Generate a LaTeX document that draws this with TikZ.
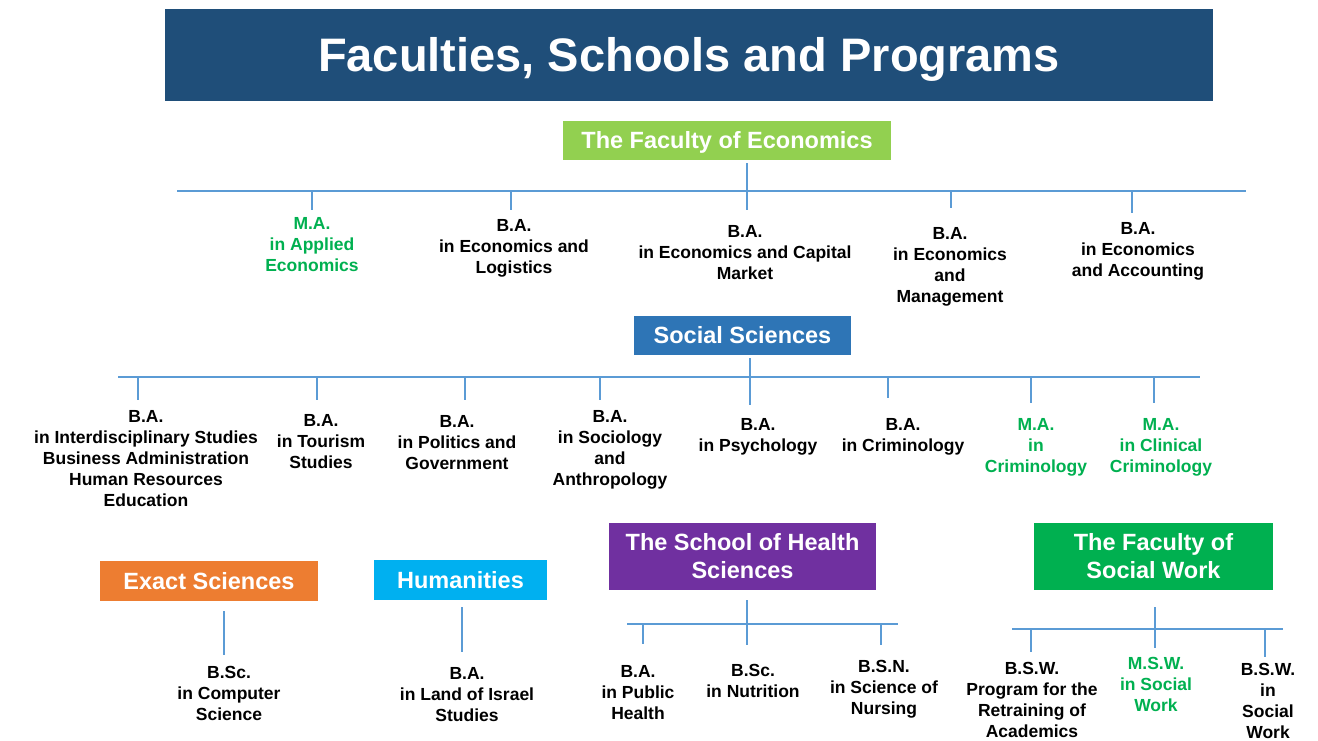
\documentclass[tikz,border=0pt]{standalone}
\usepackage{fontspec}
\setmainfont{Liberation Sans}
\usetikzlibrary{positioning}
\definecolor{titleblue}{HTML}{1F4E79}
\definecolor{ecogreen}{HTML}{92D050}
\definecolor{socblue}{HTML}{2E75B6}
\definecolor{exactorange}{HTML}{ED7D31}
\definecolor{humcyan}{HTML}{00B0F0}
\definecolor{healthpurple}{HTML}{7030A0}
\definecolor{swgreen}{HTML}{00B050}
\definecolor{linkblue}{HTML}{5B9BD5}
\tikzset{
    facbox/.style={
        fill=#1,
        text=white,
        inner sep=0pt,
        align=center,
        font=\bfseries\fontsize{23.5}{28}\selectfont
    },
    oneline/.style={
        text height=#1,
        text depth=0pt
    },
    oneline/.default=16.8pt,
    prog/.style={
        anchor=north,
        inner sep=0pt,
        align=center,
        font=\bfseries\fontsize{17.5}{21}\selectfont
    },
    master/.style={prog, text=swgreen},
    link/.style={draw=linkblue, line width=1.2pt}
}

\begin{document}
\begin{tikzpicture}[x=1pt, y=-1pt]
\useasboundingbox (0,0) rectangle (1318,740);

% title
\node[fill=titleblue, text=white, minimum width=1048pt, minimum height=92pt,
      inner sep=0pt, oneline=33.6pt, font=\bfseries\fontsize{47}{56}\selectfont]
      (title) at (689,55) {Faculties, Schools and Programs};

% faculties
\node[facbox=ecogreen, oneline, minimum width=328pt, minimum height=39pt] (eco) at (727,140.5) {The Faculty of Economics};
\node[facbox=socblue, oneline, minimum width=217pt, minimum height=39pt] (soc) at (742.5,335.5) {Social Sciences};
\node[facbox=exactorange, oneline, minimum width=218pt, minimum height=40pt] (exact) at (209,581) {Exact Sciences};
\node[facbox=humcyan, oneline, minimum width=173pt, minimum height=40pt] (hum) at (460.5,580) {Humanities};
\node[facbox=healthpurple, minimum width=267pt, minimum height=67pt] (health) at (742.5,556.5) {The School of Health\\Sciences};
\node[facbox=swgreen, minimum width=239pt, minimum height=67pt] (sw) at (1153.5,556.5) {The Faculty of\\Social Work};

% programs of economics
\node[master] (p1) at (312,217.7) {M.A.\\in Applied\\Economics};
\node[prog] (p2) at (514,219.7) {B.A.\\in Economics and\\Logistics};
\node[prog] (p3) at (745,225.7) {B.A.\\in Economics and Capital\\Market};
\node[prog] (p4) at (950,227.7) {B.A.\\in Economics\\and\\Management};
\node[prog] (p5) at (1138,222.7) {B.A.\\in Economics\\and Accounting};

% programs of social sciences
\node[prog] (s1) at (146,410.7) {B.A.\\in Interdisciplinary Studies\\Business Administration\\Human Resources\\Education};
\node[prog] (s2) at (321,414.7) {B.A.\\in Tourism\\Studies};
\node[prog] (s3) at (457,415.7) {B.A.\\in Politics and\\Government};
\node[prog] (s4) at (610,410.7) {B.A.\\in Sociology\\and\\Anthropology};
\node[prog] (s5) at (758,418.7) {B.A.\\in Psychology};
\node[prog] (s6) at (903,418.7) {B.A.\\in Criminology};
\node[master] (s7) at (1036,418.7) {M.A.\\in\\Criminology};
\node[master] (s8) at (1161,418.7) {M.A.\\in Clinical\\Criminology};

% programs of the lower faculties
\node[prog] (e1) at (229,665.7) {B.Sc.\\in Computer\\Science};
\node[prog] (hm1) at (467,667.7) {B.A.\\in Land of Israel\\Studies};
\node[prog] (h1) at (638,665.7) {B.A.\\in Public\\Health};
\node[prog] (h2) at (753,663.7) {B.Sc.\\in Nutrition};
\node[prog] (h3) at (884,659.7) {B.S.N.\\in Science of\\Nursing};
\node[prog] (w1) at (1032,661.7) {B.S.W.\\Program for the\\Retraining of\\Academics};
\node[master] (w2) at (1156,656.7) {M.S.W.\\in Social\\Work};
\node[prog] (w3) at (1268,662.7) {B.S.W.\\in\\Social\\Work};

% buses
\coordinate (ecoL) at (177,191);
\coordinate (ecoR) at (1246,191);
\coordinate (socL) at (118,377);
\coordinate (socR) at (1200,377);
\coordinate (healthL) at (627,624);
\coordinate (healthR) at (898,624);
\coordinate (swL) at (1012,629);
\coordinate (swR) at (1283,629);
\draw[link] (ecoL) -- (ecoR);
\draw[link] (socL) -- (socR);
\draw[link] (healthL) -- (healthR);
\draw[link] (swL) -- (swR);

% stems
\draw[link, shorten <=3pt, shorten >=15.7pt] ([xshift=20pt]eco.south) -- ([xshift=20pt]eco.south |- p3.north);
\draw[link, shorten <=3pt, shorten >=13.7pt] ([xshift=7.5pt]soc.south) -- ([xshift=7.5pt]soc.south |- s5.north);
\draw[link, shorten <=10pt, shorten >=18.7pt] ([xshift=4.5pt]health.south) -- ([xshift=4.5pt]health.south |- h2.north);
\draw[link, shorten <=17pt, shorten >=8.7pt] ([xshift=1.5pt]sw.south) -- ([xshift=1.5pt]sw.south |- w2.north);
\draw[link, shorten <=10pt, shorten >=10.7pt] ([xshift=15pt]exact.south) -- ([xshift=15pt]exact.south |- e1.north);
\draw[link, shorten <=7pt, shorten >=15.7pt] ([xshift=1.5pt]hum.south) -- ([xshift=1.5pt]hum.south |- hm1.north);

% drops
\foreach \dx/\prg/\gap in {312/p1/7.7, 511/p2/9.7, 951/p4/19.7, 1132/p5/9.7}{
    \coordinate (\prg-top) at (\dx,191);
    \draw[link, shorten >=\gap pt] (\prg-top) -- (\prg-top |- \prg.north);
}
\foreach \dx/\prg/\gap in {138/s1/10.7, 317/s2/14.7, 465/s3/15.7, 600/s4/10.7, 888/s6/20.7, 1031/s7/15.7, 1154/s8/15.7}{
    \coordinate (\prg-top) at (\dx,377);
    \draw[link, shorten >=\gap pt] (\prg-top) -- (\prg-top |- \prg.north);
}
\foreach \dx/\prg/\gap in {643/h1/21.7, 881/h3/14.7}{
    \coordinate (\prg-top) at (\dx,624);
    \draw[link, shorten >=\gap pt] (\prg-top) -- (\prg-top |- \prg.north);
}
\foreach \dx/\prg/\gap in {1031/w1/9.7, 1265/w3/5.7}{
    \coordinate (\prg-top) at (\dx,629);
    \draw[link, shorten >=\gap pt] (\prg-top) -- (\prg-top |- \prg.north);
}
\end{tikzpicture}
\end{document}
